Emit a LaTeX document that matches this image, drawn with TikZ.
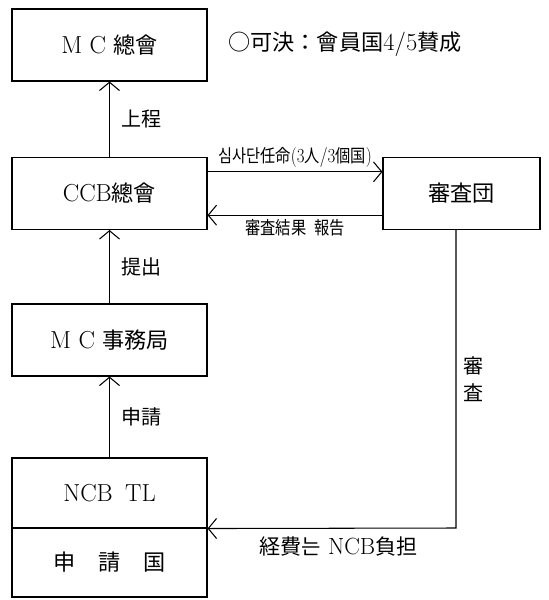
\documentclass[tikz,border=0pt]{standalone}
\usepackage{fontspec}
\usepackage{tikz}
\usetikzlibrary{positioning}
\usetikzlibrary{arrows.meta}
\newfontfamily\cjk[Scale=0.9]{Noto Sans CJK JP}
\newfontfamily\kor[Scale=0.9]{Noto Sans CJK KR}

\begin{document}
\begin{tikzpicture}[x=0.03cm, y=-0.03cm, line width=0.9pt,
    box/.style={draw, minimum width=5.85cm, minimum height=2.16cm, inner sep=0pt,
                font=\fontsize{21}{24}\selectfont},
    lbl/.style={font=\fontsize{19}{23}\selectfont, inner sep=2pt},
    small/.style={font=\fontsize{17}{20}\selectfont, xscale=0.85, inner sep=3pt},
    arr/.style={-{Straight Barb[length=2.5mm,width=6mm]}}]

                  % Frame
                  \useasboundingbox (0,0) rectangle (548,600);

                  % Boxes on the left
                  \node[box] (mc) at (109.5,45) {M\hspace{0.3em}C\hspace{0.3em}{\cjk 總會}};
                  \node[box] (ccb) at (109.5,193.5) {CCB{\cjk 總會}};
                  \node[box] (jim) at (109.5,340) {M\hspace{0.3em}C\hspace{0.3em}{\cjk 事務局}};
                  \node[box, minimum height=2.1cm] (ncb) at (109.5,493) {NCB\hspace{0.5em}TL};
                  \node[box, minimum height=2.07cm, below=-0.9pt of ncb] (shinsei) {\cjk 申\hspace{1.05em}請\hspace{1.05em}国};

                  % Review team
                  \node[box, minimum width=4.71cm] (shinsa) at (461.5,193.5) {\cjk 審査団};

                  % Note
                  \node[lbl, font=\fontsize{21}{24}\selectfont] (note) at (345,44)
                        {{\cjk ○可決：會員国}4/5{\cjk 賛成}};

                  % Arrows up the left column
                  \draw[arr] (ccb.north) -- (mc.south) node[lbl, midway, right=8pt] {\cjk 上程};
                  \draw[arr] (jim.north) -- (ccb.south) node[lbl, midway, right=8pt] {\cjk 提出};
                  \draw[arr] (ncb.north) -- (jim.south) node[lbl, midway, right=8pt] {\cjk 申請};

                  % Between CCB and the team
                  \draw[arr] ([yshift=0.65cm]ccb.east) -- ([yshift=0.65cm]ccb.east -| shinsa.west)
                        node[small, midway, above] {{\kor 심사단}{\cjk 任命}(3{\cjk 人}/3{\cjk 個国})};
                  \draw[arr] ([yshift=-0.65cm]shinsa.west) -- ([yshift=-0.65cm]shinsa.west -| ccb.east)
                        node[small, midway, below] {\cjk 審査結果\hspace{0.5em}報告};

                  % Review line down to the applicant
                  \coordinate (turn) at (456,528);
                  \draw[arr] (shinsa.south -| turn) -- (turn) node[lbl, midway, right=4pt, align=center] {\cjk 審\\\cjk 査}
                        -- (ncb.south east) node[lbl, font=\fontsize{20}{24}\selectfont, midway, below=5pt, xshift=0.2cm]
                        {{\cjk 経費}{\kor 는}\hspace{0.3em}NCB{\cjk 負担}};

              \end{tikzpicture}
\end{document}
